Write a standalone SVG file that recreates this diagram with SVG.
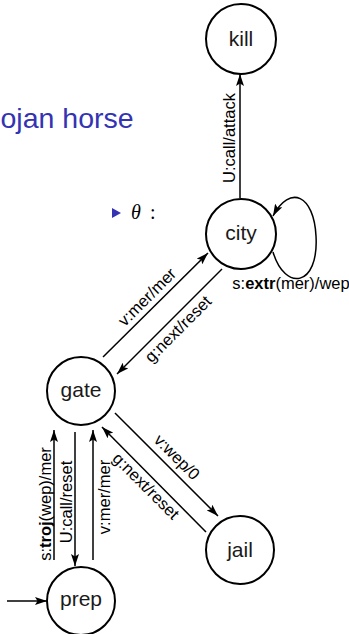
<svg xmlns="http://www.w3.org/2000/svg" width="349" height="634" viewBox="0 0 349 634">
  <defs>
    <marker id="arrow" viewBox="0 0 12 8" refX="12" refY="4" markerWidth="12" markerHeight="8" markerUnits="userSpaceOnUse" orient="auto">
      <path d="M0,0 L12,4 L0,8 L2.5,4 Z" fill="#000"/>
    </marker>
  </defs>
  <style>
    .state { fill: #fff; stroke: #000; stroke-width: 2; }
    .name { font-family: "Liberation Sans", Arial, sans-serif; font-size: 21px; text-anchor: middle; fill: #1a1a1a; }
    .edge { fill: none; stroke: #000; stroke-width: 1.5; marker-end: url(#arrow); }
    .lbl { font-family: "Liberation Sans", Arial, sans-serif; font-size: 16.5px; text-anchor: middle; fill: #000; }
    .title { font-family: "Liberation Sans", Arial, sans-serif; font-size: 28.5px; fill: #3333b3; }
  </style>
  <rect width="349" height="634" fill="#fff"/>

  <!-- slide title and bullet -->
  <text class="title" x="0.5" y="128">ojan horse</text>
  <polygon points="112,208 121,213 112,218" fill="#3333b3"/>
  <text x="131" y="219" font-family="Liberation Serif, serif" font-size="20" font-style="italic">θ</text>
  <text x="150" y="219" font-family="Liberation Serif, serif" font-size="20">:</text>

  <!-- transitions -->
  <g id="edges">
    <path class="edge" d="M240,198 L240,74"/>
    <path class="edge" d="M273,252 C285,292 319,287 316,236 C314,195 290,184 273,216"/>
    <path class="edge" d="M103,357 L208,253"/>
    <path class="edge" d="M222,269 L117,374"/>
    <path class="edge" d="M115,413 L218,516"/>
    <path class="edge" d="M206,532 L102,427"/>
    <path class="edge" d="M54,560 L54,430"/>
    <path class="edge" d="M75,432 L75,566"/>
    <path class="edge" d="M93,560 L93,430"/>
    <path class="edge" d="M7,601 L47,601"/>

    <text class="lbl" transform="translate(235,138) rotate(-90)">U:call/attack</text>
    <text class="lbl" x="291" y="289" font-size="16">s:<tspan font-weight="bold">extr</tspan>(mer)/wep</text>
    <text class="lbl" transform="translate(151,301) rotate(-45)">v:mer/mer</text>
    <text class="lbl" transform="translate(182,333) rotate(-45)">g:next/reset</text>
    <text class="lbl" transform="translate(173,461) rotate(45)">v:wep/0</text>
    <text class="lbl" transform="translate(142,490) rotate(45)">g:next/reset</text>
    <text class="lbl" transform="translate(51,504) rotate(-90)">s:<tspan font-weight="bold">troj</tspan>(wep)/mer</text>
    <text class="lbl" transform="translate(72,502) rotate(-90)">U:call/reset</text>
    <text class="lbl" transform="translate(110,497) rotate(-90)">v:mer/mer</text>
  </g>

  <!-- states -->
  <g id="kill">
    <circle class="state" cx="241" cy="39" r="35"/>
    <text class="name" x="241" y="46">kill</text>
  </g>
  <g id="city">
    <circle class="state" cx="241" cy="234" r="35"/>
    <text class="name" x="241" y="240">city</text>
  </g>
  <g id="gate">
    <circle class="state" cx="81" cy="391" r="34"/>
    <text class="name" x="81" y="397">gate</text>
  </g>
  <g id="jail">
    <circle class="state" cx="240" cy="550" r="34"/>
    <text class="name" x="240" y="557">jail</text>
  </g>
  <g id="prep">
    <circle class="state" cx="81" cy="601" r="34"/>
    <text class="name" x="81" y="606">prep</text>
  </g>
</svg>
